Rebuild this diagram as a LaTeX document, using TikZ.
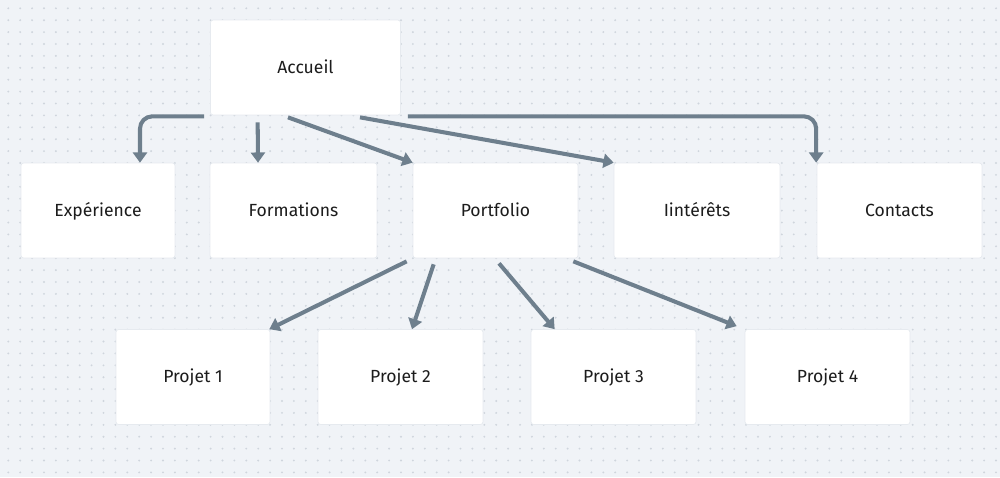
\documentclass[tikz,border=0pt]{standalone}
\usepackage{fontspec}
\setmainfont{Fira Sans}
\definecolor{pageBg}{HTML}{F0F3F7}
\definecolor{gridDot}{HTML}{CFD5DD}
\definecolor{linkGray}{HTML}{6E7F8D}
\definecolor{boxEdge}{HTML}{E6EAEF}
\definecolor{labelInk}{HTML}{1C1C1C}
\usetikzlibrary{arrows.meta,calc}
\tikzset{
  page/.style={draw=boxEdge,fill=white,rounded corners=1.5pt,minimum height=1.9cm,inner sep=0pt,text height=1.45ex,text depth=0.25ex,text=labelInk,font=\fontsize{10}{12}\selectfont},
  link/.style={draw=linkGray,line width=2.3pt,-{Triangle[width=8pt,length=5.8pt]}}
}

\begin{document}
\begin{tikzpicture}[x=0.02cm,y=-0.02cm]
  \fill[pageBg] (0,0) rectangle (1000,477);
  \useasboundingbox (0,0) rectangle (1000,477);
  % dot grid
  \foreach \i in {0,...,83}{\foreach \j in {0,...,39}{\fill[gridDot] (8.3+11.9*\i,8.3+11.9*\j) circle (0.6pt);}}

  % pages
  \node[page,minimum width=3.8cm] (acc) at (305.5,67.5) {Accueil};
  \node[page,minimum width=3.08cm] (exp) at (98,210.5) {Expérience};
  \node[page,minimum width=3.34cm] (form) at (293.5,210.5) {Formations};
  \node[page,minimum width=3.3cm] (port) at (495.5,210.5) {Portfolio};
  \node[page,minimum width=3.32cm] (int) at (697,210.5) {Iintérêts};
  \node[page,minimum width=3.3cm] (cont) at (899.5,210.5) {Contacts};
  \node[page,minimum width=3.08cm] (p1) at (193,377) {Projet 1};
  \node[page,minimum width=3.3cm] (p2) at (400.5,377) {Projet 2};
  \node[page,minimum width=3.3cm] (p3) at (613.5,377) {Projet 3};
  \node[page,minimum width=3.3cm] (p4) at (827.5,377) {Projet 4};

  % links from Accueil
  \draw[link,rounded corners=7pt] ($(acc.south west)+(-6,1)$) -| ($(exp.north)+(42,0)$);
  \draw[link] ($(acc.south west)+(47.5,7)$) -- ($(form.north)+(-35.5,0)$);
  \draw[link] ($(acc.south)+(-17.5,2)$) -- (port.north west);
  \draw[link] ($(acc.south)+(54.5,2)$) -- (int.north west);
  \draw[link,rounded corners=7pt] ($(acc.south east)+(7,1)$) -| ($(cont.north west)+(-0.5,0)$);
  % links from Portfolio
  \draw[link] ($(port.south west)+(-6,3)$) -- ($(p1.north east)+(-1,0)$);
  \draw[link] ($(port.south west)+(21,6)$) -- ($(p2.north)+(11.5,0)$);
  \draw[link] ($(port.south)+(3.5,5)$) -- ($(p3.north west)+(24,0)$);
  \draw[link] ($(port.south east)+(-5,3)$) -- ($(p4.north west)+(-8,-3)$);
\end{tikzpicture}
\end{document}
